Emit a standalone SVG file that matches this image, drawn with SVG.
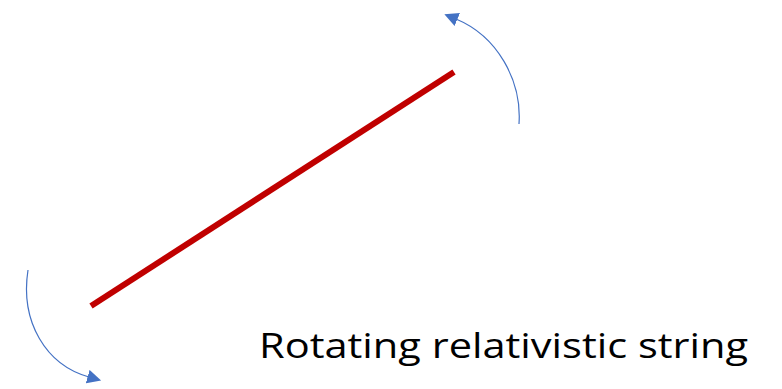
<svg xmlns="http://www.w3.org/2000/svg" width="782" height="389" viewBox="0 0 782 389">
<style>
.arc{fill:none;stroke:#4472C4;stroke-width:1.2}
.lbl{font-family:"Open Sans","Liberation Sans",Arial,sans-serif;font-size:35px;fill:#000}
</style>
<defs>
<marker id="ah" viewBox="0 0 10 10" refX="1" refY="5" markerWidth="14" markerHeight="14" markerUnits="userSpaceOnUse" orient="auto">
<path d="M0,0 L10,5 L0,10 z" fill="#4472C4"/>
</marker>
</defs>
<rect width="782" height="389" fill="#fff"/>
<g id="string">
<line x1="91" y1="306" x2="454" y2="72" stroke="#C00000" stroke-width="6"/>
</g>
<g id="connectors">
<path class="arc" d="M519,124 C522,80 497,36 456,19" marker-end="url(#ah)"/>
<path class="arc" d="M28,270 C20,322 46,365 89,377" marker-end="url(#ah)"/>
</g>
<g id="label">
<text class="lbl" x="259" y="358" textLength="489" lengthAdjust="spacingAndGlyphs">Rotating relativistic string</text>
</g>
</svg>
